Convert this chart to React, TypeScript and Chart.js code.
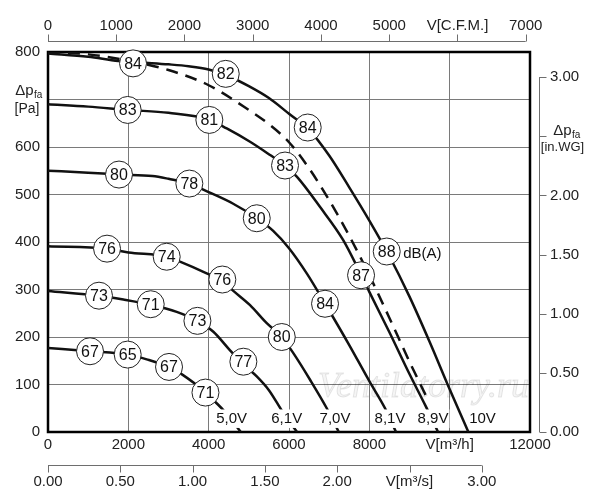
import React, { useEffect, useRef } from 'react';
import { Chart, registerables } from 'chart.js';

Chart.register(...registerables);

const FONT = "'Liberation Sans', Arial, Helvetica, sans-serif";

// ---- axis ticks ----
const FLOW_TICKS = [0, 2000, 4000, 6000, 8000, 10000, 12000];
const PRESSURE_TICKS = [0, 100, 200, 300, 400, 500, 600, 700, 800];
const CFM_TICKS = [0, 1000, 2000, 3000, 4000, 5000, 6000, 7000];
const M3S_TICKS = [0, 0.5, 1, 1.5, 2, 2.5, 3];
const INWG_TICKS = [0, 0.5, 1, 1.5, 2, 2.5, 3];

const FLOW_MAX = 12000;
const PRESSURE_MAX = 800;
const M3H_PER_CFM = 1.69901;
const M3H_PER_M3S = 3600;
const PA_PER_INWG = 249.089;

// ---- fan curves (V in m3/h, dp in Pa) ----
const CURVE_LABELS = ['5,0V', '6,1V', '7,0V', '8,1V', '8,9V', '10V'];

const FLOW_5V = [0, 1046, 1984, 2457, 3013, 3287, 3703, 3926, 4158, 4365, 4800];
const PRESS_5V = [177, 170, 163, 153, 137, 124, 99, 84, 64, 46, 0];

const FLOW_61V = [0, 1270, 1876, 2557, 3204, 3720, 4117, 4532, 4870, 5197, 5500, 5859, 6200];
const PRESS_61V = [297, 287, 279, 268, 253, 234, 211, 172, 142, 117, 88, 40, 0];

const FLOW_7V = [0, 1470, 2000, 2955, 3300, 3950, 4340, 4614, 5030, 5446, 5820, 6108, 6524, 6940, 7240];
const PRESS_7V = [391, 386, 378, 369, 358, 334, 318, 297, 267, 229, 200, 166, 110, 50, 0];

const FLOW_81V = [0, 1000, 1768, 2600, 3000, 3519, 4000, 4600, 5200, 5600, 6000, 6450, 6900, 7500, 8000, 8391, 8665];
const PRESS_81V = [550, 546, 542, 539, 533, 523, 505, 481, 450, 424, 387, 333, 270, 183, 107, 50, 0];

const FLOW_89V = [0, 1000, 2000, 3000, 4000, 4450, 5030, 5530, 5900, 6200, 6770, 7350, 7800, 8000, 8500, 9000, 9400, 9711];
const PRESS_89V = [690, 685, 678, 672, 658, 639, 611, 583, 561, 537, 474, 404, 330, 295, 210, 122, 55, 0];

const FLOW_10V = [0, 1000, 1750, 2500, 3000, 3500, 4000, 4500, 5000, 5500, 6000, 6500, 7000, 7500, 8000, 8500, 9000, 9500, 10000, 10466];
const PRESS_10V = [797, 790, 781, 777, 774, 770, 763, 749, 728, 703, 670, 636, 582, 515, 445, 370, 285, 190, 90, 0];

const FLOW_DASHED = [0, 1000, 2000, 3000, 4000, 5000, 5500, 6000, 6500, 7000, 7500, 8000, 8500, 9000, 9400];
const PRESS_DASHED = [801, 795, 782, 762, 730, 678, 648, 610, 555, 488, 413, 330, 240, 148, 78];

// ---- sound power labels dB(A) ----
const DB_FLOW_5V = [1046, 1984, 3013, 3920];
const DB_PRESS_5V = [170, 163, 137, 83];
const DB_5V = ['67', '65', '67', '71'];

const DB_FLOW_61V = [1270, 2557, 3720, 4864];
const DB_PRESS_61V = [287, 269, 234, 148];
const DB_61V = ['73', '71', '73', '77'];

const DB_FLOW_7V = [1470, 2955, 4340, 5820];
const DB_PRESS_7V = [386, 369, 321, 200];
const DB_7V = ['76', '74', '76', '80'];

const DB_FLOW_81V = [1768, 3519, 5197, 6897];
const DB_PRESS_81V = [542, 523, 450, 270];
const DB_81V = ['80', '78', '80', '84'];

const DB_FLOW_89V = [1984, 4017, 5901, 7794];
const DB_PRESS_89V = [678, 657, 561, 330];
const DB_89V = ['83', '81', '83', '87'];

const DB_FLOW_10V = [2117, 4425, 6466, 8433];
const DB_PRESS_10V = [776, 754, 641, 380];
const DB_10V = ['84', '82', '84', '88'];

const DB_UNIT = 'dB(A)';

// voltage label anchors (centre flow, baseline pressure)
const VOLT_LABEL_FLOW = [4573, 5943, 7146, 8515, 9585, 10818];
const VOLT_LABEL_PRESS = 18;

const WATERMARK = 'Ventilatorry.ru';
const WATERMARK_FLOW = 6722;
const WATERMARK_PRESS = 74;

const CURVES = [
  { flow: FLOW_5V, press: PRESS_5V },
  { flow: FLOW_61V, press: PRESS_61V },
  { flow: FLOW_7V, press: PRESS_7V },
  { flow: FLOW_81V, press: PRESS_81V },
  { flow: FLOW_89V, press: PRESS_89V },
  { flow: FLOW_10V, press: PRESS_10V },
];

const SOUND = [
  { flow: DB_FLOW_5V, press: DB_PRESS_5V, db: DB_5V },
  { flow: DB_FLOW_61V, press: DB_PRESS_61V, db: DB_61V },
  { flow: DB_FLOW_7V, press: DB_PRESS_7V, db: DB_7V },
  { flow: DB_FLOW_81V, press: DB_PRESS_81V, db: DB_81V },
  { flow: DB_FLOW_89V, press: DB_PRESS_89V, db: DB_89V },
  { flow: DB_FLOW_10V, press: DB_PRESS_10V, db: DB_10V },
];

const toPoints = (xs: number[], ys: number[]) => xs.map((x, i) => ({ x, y: ys[i] }));

const overlayPlugin = {
  id: 'fanOverlay',
  beforeDatasetsDraw(chart: any) {
    const { ctx, chartArea: ca, scales } = chart;
    const x = scales.x;
    const y = scales.y;
    ctx.save();
    // watermark
    ctx.font = "italic 36px 'Liberation Serif', serif";
    ctx.textAlign = 'left';
    ctx.textBaseline = 'alphabetic';
    ctx.fillStyle = 'rgba(0,0,0,0.04)';
    ctx.strokeStyle = 'rgba(0,0,0,0.10)';
    ctx.lineWidth = 1;
    const wx = x.getPixelForValue(WATERMARK_FLOW);
    const wy = y.getPixelForValue(WATERMARK_PRESS);
    ctx.fillText(WATERMARK, wx, wy);
    ctx.strokeText(WATERMARK, wx, wy);
    // frame
    ctx.strokeStyle = '#000';
    ctx.lineWidth = 2.5;
    ctx.strokeRect(ca.left, ca.top, ca.right - ca.left, ca.bottom - ca.top);
    ctx.restore();
  },
  afterDatasetsDraw(chart: any) {
    const { ctx, scales } = chart;
    const x = scales.x;
    const y = scales.y;
    ctx.save();
    // numbers in circles
    ctx.fillStyle = '#111';
    ctx.font = `16px ${FONT}`;
    ctx.textAlign = 'center';
    ctx.textBaseline = 'middle';
    SOUND.forEach((s) => {
      s.db.forEach((t, i) => {
        ctx.fillText(t, x.getPixelForValue(s.flow[i]), y.getPixelForValue(s.press[i]) + 1);
      });
    });
    // dB(A) unit next to the last 10V circle
    const last = SOUND[SOUND.length - 1];
    const li = last.flow.length - 1;
    ctx.textAlign = 'left';
    ctx.textBaseline = 'alphabetic';
    ctx.font = `15px ${FONT}`;
    ctx.fillText(DB_UNIT, x.getPixelForValue(last.flow[li]) + 16.5, y.getPixelForValue(last.press[li]) + 6);
    // voltage labels with white background
    ctx.font = `15px ${FONT}`;
    ctx.textAlign = 'center';
    CURVE_LABELS.forEach((lab, i) => {
      const cx = x.getPixelForValue(VOLT_LABEL_FLOW[i]);
      const by = y.getPixelForValue(VOLT_LABEL_PRESS);
      const w = ctx.measureText(lab).width;
      ctx.fillStyle = '#fff';
      ctx.fillRect(cx - w / 2 - 1, by - 14, w + 2, 18.5);
      ctx.fillStyle = '#111';
      ctx.fillText(lab, cx, by);
    });
    ctx.restore();
  },
  afterDraw(chart: any) {
    const { ctx, chartArea: ca, scales } = chart;
    ctx.save();
    ctx.strokeStyle = '#6e6e6e';
    ctx.lineWidth = 1;
    ctx.beginPath();
    // top CFM axis
    const xt = scales.xt;
    const yTop = Math.round(ca.top - 11) + 0.5;
    ctx.moveTo(xt.getPixelForValue(CFM_TICKS[0]), yTop);
    ctx.lineTo(xt.getPixelForValue(CFM_TICKS[CFM_TICKS.length - 1]), yTop);
    CFM_TICKS.forEach((v) => {
      const px = Math.round(xt.getPixelForValue(v)) + 0.5;
      ctx.moveTo(px, yTop);
      ctx.lineTo(px, yTop - 7);
    });
    // bottom m3/s axis
    const xs = scales.xs;
    const yBot = Math.round(ca.bottom + 33) + 0.5;
    ctx.moveTo(xs.getPixelForValue(M3S_TICKS[0]), yBot);
    ctx.lineTo(xs.getPixelForValue(M3S_TICKS[M3S_TICKS.length - 1]), yBot);
    M3S_TICKS.forEach((v) => {
      const px = Math.round(xs.getPixelForValue(v)) + 0.5;
      ctx.moveTo(px, yBot);
      ctx.lineTo(px, yBot + 7);
    });
    // right in.WG axis
    const y2 = scales.y2;
    const xR = Math.round(ca.right + 9) + 0.5;
    ctx.moveTo(xR, y2.getPixelForValue(INWG_TICKS[0]));
    ctx.lineTo(xR, y2.getPixelForValue(INWG_TICKS[INWG_TICKS.length - 1]));
    INWG_TICKS.forEach((v) => {
      const py = Math.round(y2.getPixelForValue(v)) + 0.5;
      ctx.moveTo(xR, py);
      ctx.lineTo(xR + 7, py);
    });
    ctx.stroke();

    // axis titles with subscripts
    ctx.fillStyle = '#222';
    ctx.textBaseline = 'alphabetic';
    const drawDp = (cx: number, base: number) => {
      ctx.font = `15px ${FONT}`;
      const w1 = ctx.measureText('Δp').width;
      ctx.font = `10px ${FONT}`;
      const w2 = ctx.measureText('fa').width;
      const start = cx - (w1 + w2) / 2;
      ctx.textAlign = 'left';
      ctx.font = `15px ${FONT}`;
      ctx.fillText('Δp', start, base);
      ctx.font = `10px ${FONT}`;
      ctx.fillText('fa', start + w1 + 0.5, base + 2.5);
    };
    const y = scales.y;
    const p700 = y.getPixelForValue(700);
    drawDp(ca.left - 19.5, p700 - 4.5);
    ctx.font = `14px ${FONT}`;
    ctx.textAlign = 'center';
    ctx.fillText('[Pa]', ca.left - 21, p700 + 13.5);

    const p25 = y2.getPixelForValue(2.5);
    drawDp(ca.right + 36.5, p25 - 1);
    ctx.font = `13px ${FONT}`;
    ctx.textAlign = 'center';
    ctx.fillText('[in.WG]', ca.right + 32.5, p25 + 15);
    ctx.restore();
  },
};

const tickFont = { family: FONT, size: 15 };

function fixTicks(values: number[]) {
  return (scale: any) => {
    scale.ticks = values.map((v) => ({ value: v }));
  };
}

export default function App() {
  const canvasRef = useRef<HTMLCanvasElement | null>(null);

  useEffect(() => {
    if (!canvasRef.current) return;
    const lineSets: any[] = CURVES.map((c) => ({
      type: 'line',
      data: toPoints(c.flow, c.press),
      borderColor: '#111',
      borderWidth: 2.5,
      pointRadius: 0,
      fill: false,
      cubicInterpolationMode: 'monotone',
      borderJoinStyle: 'round',
      order: 2,
      xAxisID: 'x',
      yAxisID: 'y',
    }));
    lineSets.push({
      type: 'line',
      data: toPoints(FLOW_DASHED, PRESS_DASHED),
      borderColor: '#111',
      borderWidth: 2.5,
      borderDash: [12, 8],
      pointRadius: 0,
      fill: false,
      cubicInterpolationMode: 'monotone',
      order: 2,
      xAxisID: 'x',
      yAxisID: 'y',
    });
    const circlePts: { x: number; y: number }[] = [];
    SOUND.forEach((s) => s.flow.forEach((f, i) => circlePts.push({ x: f, y: s.press[i] })));
    lineSets.push({
      type: 'line',
      data: circlePts,
      showLine: false,
      pointRadius: 13.5,
      pointHoverRadius: 13.5,
      pointBackgroundColor: '#fff',
      pointBorderColor: '#222',
      pointBorderWidth: 1,
      backgroundColor: '#fff',
      clip: false,
      order: 0,
      xAxisID: 'x',
      yAxisID: 'y',
    });

    const chart = new Chart(canvasRef.current, {
      type: 'line',
      data: { datasets: lineSets },
      plugins: [overlayPlugin],
      options: {
        animation: false,
        responsive: true,
        maintainAspectRatio: false,
        events: [],
        layout: { padding: 0 },
        plugins: { legend: { display: false }, tooltip: { enabled: false } },
        scales: {
          x: {
            type: 'linear',
            position: 'bottom',
            weight: 0,
            min: 0,
            max: FLOW_MAX,
            afterBuildTicks: fixTicks(FLOW_TICKS),
            afterFit: (s: any) => {
              s.height = 33;
              s.paddingLeft = 0;
              s.paddingRight = 0;
            },
            grid: { color: '#7a7a7a', lineWidth: 1, drawTicks: false },
            border: { display: false },
            ticks: {
              autoSkip: false,
              maxRotation: 0,
              padding: 4,
              color: '#222',
              font: tickFont,
              callback: (v: any) => (v === 10000 ? 'V[m³/h]' : String(v)),
            },
          },
          xs: {
            type: 'linear',
            position: 'bottom',
            weight: 1,
            min: 0,
            max: FLOW_MAX / M3H_PER_M3S,
            afterBuildTicks: fixTicks(M3S_TICKS),
            afterFit: (s: any) => {
              s.height = 35;
              s.paddingLeft = 0;
              s.paddingRight = 0;
            },
            grid: { display: false, drawTicks: false },
            border: { display: false },
            ticks: {
              autoSkip: false,
              maxRotation: 0,
              padding: 8,
              color: '#222',
              font: tickFont,
              callback: (v: any) => (v === 2.5 ? 'V[m³/s]' : Number(v).toFixed(2)),
            },
          },
          xt: {
            type: 'linear',
            position: 'top',
            min: 0,
            max: FLOW_MAX / M3H_PER_CFM,
            afterBuildTicks: fixTicks(CFM_TICKS),
            afterFit: (s: any) => {
              s.height = 52;
              s.paddingLeft = 0;
              s.paddingRight = 0;
            },
            grid: { display: false, drawTicks: false },
            border: { display: false },
            ticks: {
              autoSkip: false,
              maxRotation: 0,
              padding: 17,
              color: '#222',
              font: tickFont,
              callback: (v: any) => (v === 6000 ? 'V[C.F.M.]' : String(v)),
            },
          },
          y: {
            type: 'linear',
            position: 'left',
            min: 0,
            max: PRESSURE_MAX,
            afterBuildTicks: fixTicks(PRESSURE_TICKS),
            afterFit: (s: any) => {
              s.width = 48;
              s.paddingTop = 0;
              s.paddingBottom = 0;
            },
            grid: { color: '#7a7a7a', lineWidth: 1, drawTicks: false },
            border: { display: false },
            ticks: {
              autoSkip: false,
              padding: 8,
              color: '#222',
              font: tickFont,
              callback: (v: any) => (v === 700 ? '' : String(v)),
            },
          },
          y2: {
            type: 'linear',
            position: 'right',
            min: 0,
            max: PRESSURE_MAX / PA_PER_INWG,
            afterBuildTicks: fixTicks(INWG_TICKS),
            afterFit: (s: any) => {
              s.width = 70;
              s.paddingTop = 0;
              s.paddingBottom = 0;
            },
            grid: { display: false, drawTicks: false },
            border: { display: false },
            ticks: {
              autoSkip: false,
              padding: 20,
              color: '#222',
              font: tickFont,
              callback: (v: any) => (v === 2.5 ? '' : Number(v).toFixed(2)),
            },
          },
        },
      } as any,
    });
    return () => chart.destroy();
  }, []);

  return (
    <div style={{ position: 'absolute', left: 0, top: 0, width: 600, height: 500, background: '#fff' }}>
      <canvas ref={canvasRef} />
    </div>
  );
}
